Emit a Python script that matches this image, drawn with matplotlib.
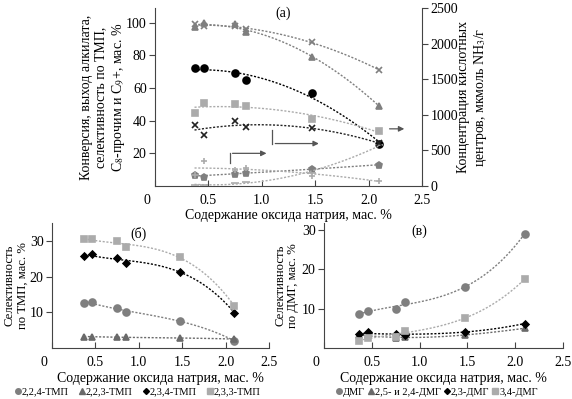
import numpy as np
import matplotlib
matplotlib.use("Agg")
import matplotlib.pyplot as plt
import matplotlib.transforms as mtrans
from matplotlib.lines import Line2D

plt.rcParams['font.family'] = ['Liberation Serif', 'DejaVu Serif']
plt.rcParams['font.size'] = 10
plt.rcParams['mathtext.fontset'] = 'stix'

# содержание Na2O, мас. %
na2o = [0.37, 0.46, 0.75, 0.85, 1.47, 2.1]

# (a) левая ось, мас. %
conversion = [99, 98, 98, 96, 88, 71]
alk_yield = [97.5, 100, 99, 94, 79, 49]
tmp_sel = [72, 72, 69, 65, 57, 26]
c8_other = [6.7, 5.7, 7.4, 8, 10.4, 13]
c9_plus = [0.5, 0.5, 2, 2.5, 8, 25]
# (a) правая ось, мкмоль NH3/г
acid_total = [1030, 1170, 1150, 1120, 940, 770]
acid_medium = [850, 710, 915, 825, 810, 600]
acid_weak = [160, 355, 230, 255, 140, 75]

# (б) селективность по ТМП
tmp_names = ['2,2,4-ТМП', '2,2,3-ТМП', '2,3,4-ТМП', '2,3,3-ТМП']
tmp_224 = [12.7, 13, 11.2, 10, 7.6, 2]
tmp_223 = [3.2, 3.2, 3.0, 3.0, 2.8, 2.5]
tmp_234 = [25.9, 26.3, 25.3, 23.9, 21.4, 9.9]
tmp_233 = [30.4, 30.4, 30, 28.4, 25.4, 11.8]

# (в) селективность по ДМГ
dmg_names = ['ДМГ', '2,5- и 2,4-ДМГ', '2,3-ДМГ', '3,4-ДМГ']
dmg_all = [8.6, 9.4, 9.9, 11.6, 15.4, 29]
dmg_25_24 = [3.2, 3.3, 2.5, 2.8, 3.3, 5]
dmg_23 = [3.5, 4.0, 3.6, 3.3, 4.1, 6.2]
dmg_34 = [1.9, 2.5, 2.9, 4.4, 7.5, 17.5]

GRAY = '#7f7f7f'
DGRAY = '#6a6a6a'
LGRAY = '#ababab'
SPINE = '#444444'


def series(ax, y, marker, color, ms=5, deg=2, lc=None):
    x = np.array(na2o)
    ax.plot(x, y, linestyle='none', marker=marker, color=color, ms=ms,
            mew=1.2)
    p = np.polyfit(x, y, deg)
    xs = np.linspace(x.min(), x.max(), 100)
    ax.plot(xs, np.polyval(p, xs), ls=(0, (1.5, 1.2)), lw=1.0,
            color=lc or color)


def style(ax, ymax, yticks):
    ax.set_xlim(0, 2.5)
    ax.set_ylim(0, ymax)
    ax.set_xticks([0, 0.5, 1.0, 1.5, 2.0, 2.5])
    ax.set_xticklabels(['0', '0.5', '1.0', '1.5', '2.0', '2.5'])
    ax.set_yticks(yticks)
    ax.tick_params(axis='x', direction='in', length=4, color=SPINE, pad=6)
    ax.tick_params(axis='y', direction='out', length=4, color=SPINE, pad=2)
    for s in ['top', 'right']:
        ax.spines[s].set_visible(False)
    for s in ['left', 'bottom']:
        ax.spines[s].set_color(SPINE)
    # "0" стоит левее оси
    lab = ax.get_xticklabels()[0]
    lab.set_transform(lab.get_transform() +
                      mtrans.ScaledTranslation(-8/100, 0, fig.dpi_scale_trans))


fig = plt.figure(figsize=(5.72, 3.99), dpi=100)

# ---- (a)
ax = fig.add_axes([155/572, 1-186/399, 267/572, 178/399])
style(ax, 109, [20, 40, 60, 80, 100])
series(ax, conversion, 'x', GRAY, ms=4.5)
series(ax, alk_yield, '^', GRAY)
series(ax, tmp_sel, 'o', 'black')
series(ax, c8_other, 'p', GRAY, ms=4.5)
series(ax, c9_plus, '_', LGRAY, ms=6)
ax2 = ax.twinx()
ax2.set_ylim(0, 2500)
ax2.set_yticks([0, 500, 1000, 1500, 2000, 2500])
ax2.tick_params(axis='y', direction='out', length=4, color=SPINE, pad=2)
ax2.spines['top'].set_visible(False)
ax2.spines['left'].set_visible(False)
ax2.spines['bottom'].set_visible(False)
ax2.spines['right'].set_color(SPINE)
series(ax2, acid_total, 's', LGRAY)
series(ax2, acid_medium, 'x', '#222222', ms=4)
series(ax2, acid_weak, '+', LGRAY, ms=5)

ax.set_ylabel('Конверсия, выход алкилата,\nселективность по ТМП,\n'
              'C$_8$-прочим и C$_9$+, мас. %', linespacing=1.2)
ax.yaxis.set_label_coords(-0.105, 0.5)
ax2.set_ylabel('Концентрация кислотных\nцентров, мкмоль NH$_3$/г',
               linespacing=1.2)
ax2.yaxis.set_label_coords(1.13, 0.5)
ax.set_xlabel('Содержание оксида натрия, мас. %', labelpad=1)
ax.text(1.2, 106, '(a)', ha='center', va='center')

# стрелки к правой оси
arw = dict(arrowstyle='-|>', color='#555555', lw=0.9, mutation_scale=8)
ax.plot([0.7, 0.7], [14, 20], color='#555555', lw=0.9)
ax.annotate('', xy=(1.07, 20), xytext=(0.7, 20), arrowprops=arw)
ax.plot([1.1, 1.1], [34, 26], color='#555555', lw=0.9)
ax.annotate('', xy=(1.56, 26), xytext=(1.1, 26), arrowprops=arw)
ax.annotate('', xy=(2.36, 35), xytext=(2.17, 35), arrowprops=arw,
            annotation_clip=False)

# ---- (б)
axb = fig.add_axes([52/572, 1-348/399, 217/572, 125/399])
style(axb, 35, [10, 20, 30])
specs = [('o', GRAY), ('^', DGRAY), ('D', 'black'), ('s', LGRAY)]
for y, (m, c) in zip([tmp_224, tmp_223, tmp_234, tmp_233], specs):
    series(axb, y, m, c, ms=5 if m != 'D' else 3.5, deg=3)
axb.set_ylabel('Селективность\nпо ТМП, мас. %', linespacing=1.1,
               fontsize=9.2)
axb.yaxis.set_label_coords(-0.108, 0.5)
axb.set_xlabel('Содержание оксида натрия, мас. %', labelpad=2)
axb.text(1.0, 32, '(б)', ha='center', va='center')

# ---- (в)
axc = fig.add_axes([324/572, 1-348/399, 239/572, 125/399])
style(axc, 31.7, [10, 20, 30])
for y, (m, c) in zip([dmg_all, dmg_25_24, dmg_23, dmg_34], specs):
    series(axc, y, m, c, ms=5 if m != 'D' else 3.5, deg=3)
axc.set_ylabel('Селективность\nпо ДМГ, мас. %', linespacing=1.1,
               fontsize=9.2)
axc.yaxis.set_label_coords(-0.105, 0.5)
axc.set_xlabel('Содержание оксида натрия, мас. %', labelpad=2)
axc.text(1.0, 29.5, '(в)', ha='center', va='center')


def legend(names, cx, cs):
    hs = [Line2D([], [], ls='none', marker=m, color=c,
                 ms=4 if m != 'D' else 3) for m, c in specs]
    fig.legend(hs, names, loc='center', bbox_to_anchor=(cx, 1-392/399),
               ncol=4, frameon=False, fontsize=7.5, handlelength=0.5,
               handletextpad=0.15, columnspacing=cs, borderpad=0)


legend(tmp_names, 138/572, 1.0)
legend(dmg_names, 437/572, 0.3)

fig.savefig('out.png', dpi=100)
